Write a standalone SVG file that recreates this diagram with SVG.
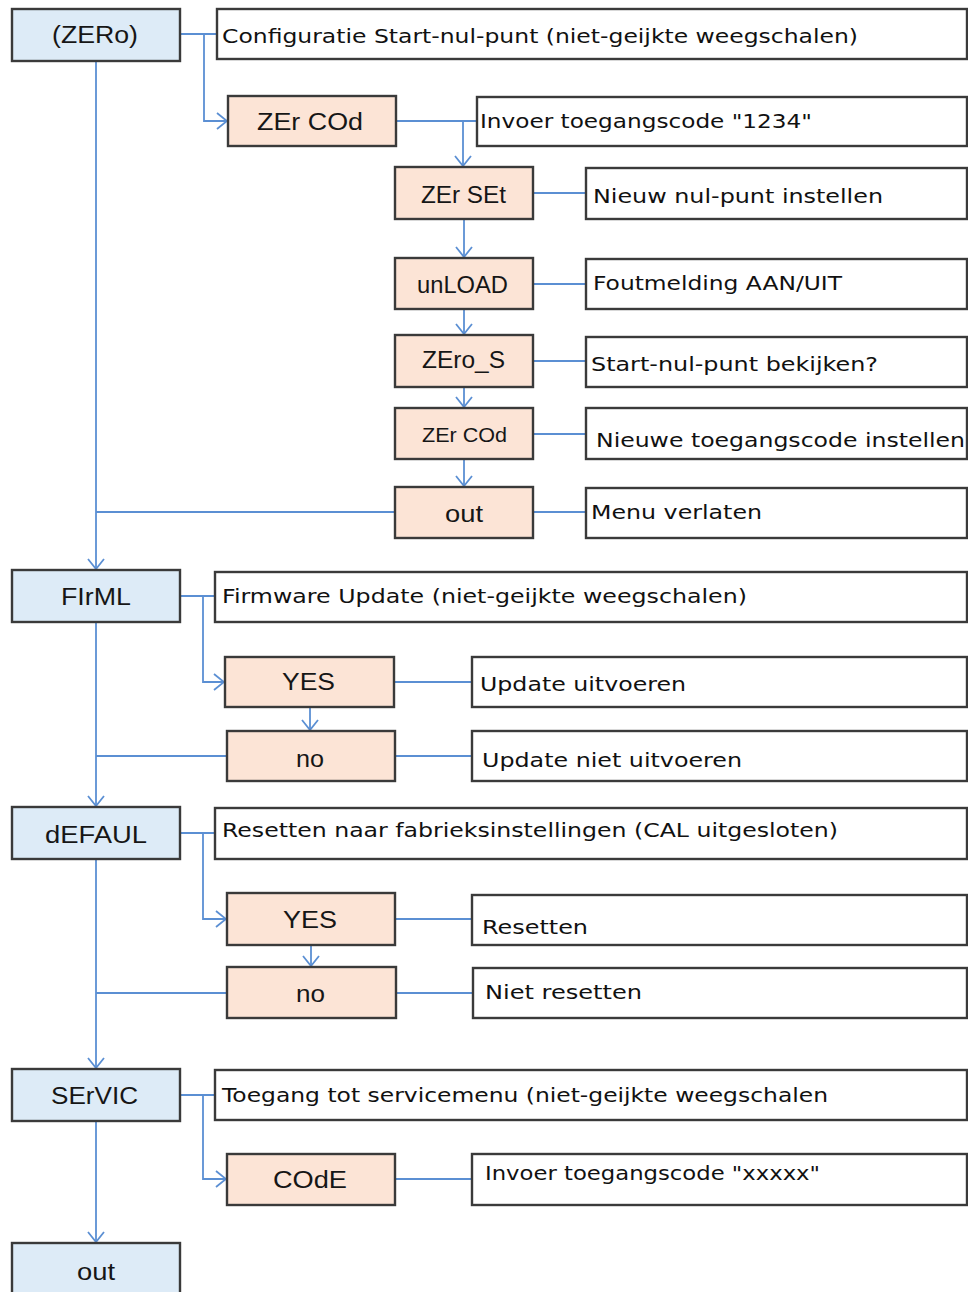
<svg xmlns="http://www.w3.org/2000/svg" width="968" height="1292" viewBox="0 0 968 1292">
<style>
.m{fill:#ddebf7;stroke:#3a3a3a;stroke-width:2.4}
.s{fill:#fce4d6;stroke:#3a3a3a;stroke-width:2.4}
.d{fill:#ffffff;stroke:#3a3a3a;stroke-width:2.4}
.nt{font-family:"Liberation Sans",Arial,sans-serif;font-size:23px;fill:#161616}
.dt{font-family:"DejaVu Sans",sans-serif;font-size:20px;fill:#111}
.c{fill:none;stroke:#5b8fd3;stroke-width:1.8}
</style>
<defs>
<marker id="a" viewBox="0 0 12 20" refX="11" refY="10" markerWidth="12" markerHeight="20" markerUnits="userSpaceOnUse" orient="auto">
<path d="M1,2 L11,10 L1,18" fill="none" stroke="#5b8fd3" stroke-width="1.8"/>
</marker>
</defs>
<rect width="968" height="1292" fill="#ffffff"/>
<g id="connectors">
<path class="c" d="M180,34 H217"/>
<path class="c" d="M204,34 V121 H227" marker-end="url(#a)"/>
<path class="c" d="M396,121 H477"/>
<path class="c" d="M463,121 V166" marker-end="url(#a)"/>
<path class="c" d="M533,193 H586"/>
<path class="c" d="M464,219 V257" marker-end="url(#a)"/>
<path class="c" d="M533,284 H586"/>
<path class="c" d="M464,309 V334" marker-end="url(#a)"/>
<path class="c" d="M533,361 H586"/>
<path class="c" d="M464,387 V407" marker-end="url(#a)"/>
<path class="c" d="M533,434 H586"/>
<path class="c" d="M464,459 V486" marker-end="url(#a)"/>
<path class="c" d="M533,512 H586"/>
<path class="c" d="M395,512 H96"/>
<path class="c" d="M96,61 V569" marker-end="url(#a)"/>
<path class="c" d="M180,596 H215"/>
<path class="c" d="M203,596 V682 H224" marker-end="url(#a)"/>
<path class="c" d="M394,682 H472"/>
<path class="c" d="M310,707 V730" marker-end="url(#a)"/>
<path class="c" d="M227,756 H96"/>
<path class="c" d="M395,756 H472"/>
<path class="c" d="M96,622 V806" marker-end="url(#a)"/>
<path class="c" d="M180,833 H215"/>
<path class="c" d="M203,833 V919 H226" marker-end="url(#a)"/>
<path class="c" d="M395,919 H472"/>
<path class="c" d="M311,945 V966" marker-end="url(#a)"/>
<path class="c" d="M227,993 H96"/>
<path class="c" d="M396,993 H473"/>
<path class="c" d="M96,859 V1068" marker-end="url(#a)"/>
<path class="c" d="M180,1095 H215"/>
<path class="c" d="M203,1095 V1179 H226" marker-end="url(#a)"/>
<path class="c" d="M395,1179 H472"/>
<path class="c" d="M96,1121 V1242" marker-end="url(#a)"/>
</g>
<g id="zero">
<rect class="m" x="12" y="9" width="168" height="52"/>
<text class="nt" x="52" y="43" textLength="86" lengthAdjust="spacingAndGlyphs">(ZERo)</text>
</g>
<g id="zero-desc">
<rect class="d" x="217" y="9" width="750" height="50"/>
<text class="dt" x="222" y="43" textLength="636" lengthAdjust="spacingAndGlyphs">Configuratie Start-nul-punt (niet-geijkte weegschalen)</text>
</g>
<g id="zercod1">
<rect class="s" x="228" y="96" width="168" height="50"/>
<text class="nt" x="257" y="130" textLength="106" lengthAdjust="spacingAndGlyphs">ZEr COd</text>
</g>
<g id="zercod1-desc">
<rect class="d" x="477" y="97" width="490" height="49"/>
<text class="dt" x="480" y="128" textLength="332" lengthAdjust="spacingAndGlyphs">Invoer toegangscode "1234"</text>
</g>
<g id="zerset">
<rect class="s" x="395" y="167" width="138" height="52"/>
<text class="nt" x="421" y="203" textLength="85" lengthAdjust="spacingAndGlyphs">ZEr SEt</text>
</g>
<g id="zerset-desc">
<rect class="d" x="586" y="168" width="381" height="51"/>
<text class="dt" x="593" y="203" textLength="290" lengthAdjust="spacingAndGlyphs">Nieuw nul-punt instellen</text>
</g>
<g id="unload">
<rect class="s" x="395" y="258" width="138" height="51"/>
<text class="nt" x="417" y="293" textLength="91" lengthAdjust="spacingAndGlyphs">unLOAD</text>
</g>
<g id="unload-desc">
<rect class="d" x="586" y="259" width="381" height="50"/>
<text class="dt" x="593" y="290" textLength="249" lengthAdjust="spacingAndGlyphs">Foutmelding AAN/UIT</text>
</g>
<g id="zeros">
<rect class="s" x="395" y="335" width="138" height="52"/>
<text class="nt" x="422" y="368" textLength="83" lengthAdjust="spacingAndGlyphs">ZEro_S</text>
</g>
<g id="zeros-desc">
<rect class="d" x="586" y="337" width="381" height="50"/>
<text class="dt" x="591" y="371" textLength="287" lengthAdjust="spacingAndGlyphs">Start-nul-punt bekijken?</text>
</g>
<g id="zercod2">
<rect class="s" x="395" y="408" width="138" height="51"/>
<text class="nt" x="422" y="442" textLength="85" lengthAdjust="spacingAndGlyphs" style="font-size:21px">ZEr COd</text>
</g>
<g id="zercod2-desc">
<rect class="d" x="586" y="408" width="381" height="51"/>
<text class="dt" x="596" y="447" textLength="369" lengthAdjust="spacingAndGlyphs">Nieuwe toegangscode instellen</text>
</g>
<g id="out1">
<rect class="s" x="395" y="487" width="138" height="51"/>
<text class="nt" x="445" y="522" textLength="38" lengthAdjust="spacingAndGlyphs">out</text>
</g>
<g id="out1-desc">
<rect class="d" x="586" y="488" width="381" height="50"/>
<text class="dt" x="591" y="519" textLength="171" lengthAdjust="spacingAndGlyphs">Menu verlaten</text>
</g>
<g id="firml">
<rect class="m" x="12" y="570" width="168" height="52"/>
<text class="nt" x="61" y="605" textLength="70" lengthAdjust="spacingAndGlyphs">FIrML</text>
</g>
<g id="firml-desc">
<rect class="d" x="215" y="572" width="752" height="50"/>
<text class="dt" x="222" y="603" textLength="525" lengthAdjust="spacingAndGlyphs">Firmware Update (niet-geijkte weegschalen)</text>
</g>
<g id="yes1">
<rect class="s" x="225" y="657" width="169" height="50"/>
<text class="nt" x="282" y="690" textLength="53" lengthAdjust="spacingAndGlyphs">YES</text>
</g>
<g id="yes1-desc">
<rect class="d" x="472" y="657" width="495" height="50"/>
<text class="dt" x="480" y="691" textLength="206" lengthAdjust="spacingAndGlyphs">Update uitvoeren</text>
</g>
<g id="no1">
<rect class="s" x="227" y="731" width="168" height="50"/>
<text class="nt" x="296" y="767" textLength="28" lengthAdjust="spacingAndGlyphs">no</text>
</g>
<g id="no1-desc">
<rect class="d" x="472" y="731" width="495" height="50"/>
<text class="dt" x="482" y="767" textLength="260" lengthAdjust="spacingAndGlyphs">Update niet uitvoeren</text>
</g>
<g id="defaul">
<rect class="m" x="12" y="807" width="168" height="52"/>
<text class="nt" x="45" y="843" textLength="102" lengthAdjust="spacingAndGlyphs">dEFAUL</text>
</g>
<g id="defaul-desc">
<rect class="d" x="215" y="808" width="752" height="51"/>
<text class="dt" x="222" y="837" textLength="616" lengthAdjust="spacingAndGlyphs">Resetten naar fabrieksinstellingen (CAL uitgesloten)</text>
</g>
<g id="yes2">
<rect class="s" x="227" y="893" width="168" height="52"/>
<text class="nt" x="283" y="928" textLength="54" lengthAdjust="spacingAndGlyphs">YES</text>
</g>
<g id="yes2-desc">
<rect class="d" x="472" y="895" width="495" height="50"/>
<text class="dt" x="482" y="934" textLength="106" lengthAdjust="spacingAndGlyphs">Resetten</text>
</g>
<g id="no2">
<rect class="s" x="227" y="967" width="169" height="51"/>
<text class="nt" x="296" y="1002" textLength="29" lengthAdjust="spacingAndGlyphs">no</text>
</g>
<g id="no2-desc">
<rect class="d" x="473" y="968" width="494" height="50"/>
<text class="dt" x="485" y="999" textLength="157" lengthAdjust="spacingAndGlyphs">Niet resetten</text>
</g>
<g id="servic">
<rect class="m" x="12" y="1069" width="168" height="52"/>
<text class="nt" x="51" y="1104" textLength="87" lengthAdjust="spacingAndGlyphs">SErVIC</text>
</g>
<g id="servic-desc">
<rect class="d" x="215" y="1070" width="752" height="50"/>
<text class="dt" x="222" y="1102" textLength="606" lengthAdjust="spacingAndGlyphs">Toegang tot servicemenu (niet-geijkte weegschalen</text>
</g>
<g id="code">
<rect class="s" x="227" y="1154" width="168" height="51"/>
<text class="nt" x="273" y="1188" textLength="74" lengthAdjust="spacingAndGlyphs">COdE</text>
</g>
<g id="code-desc">
<rect class="d" x="472" y="1154" width="495" height="51"/>
<text class="dt" x="485" y="1180" textLength="335" lengthAdjust="spacingAndGlyphs">Invoer toegangscode "xxxxx"</text>
</g>
<g id="out2">
<rect class="m" x="12" y="1243" width="168" height="60"/>
<text class="nt" x="77" y="1280" textLength="38" lengthAdjust="spacingAndGlyphs">out</text>
</g>
</svg>
